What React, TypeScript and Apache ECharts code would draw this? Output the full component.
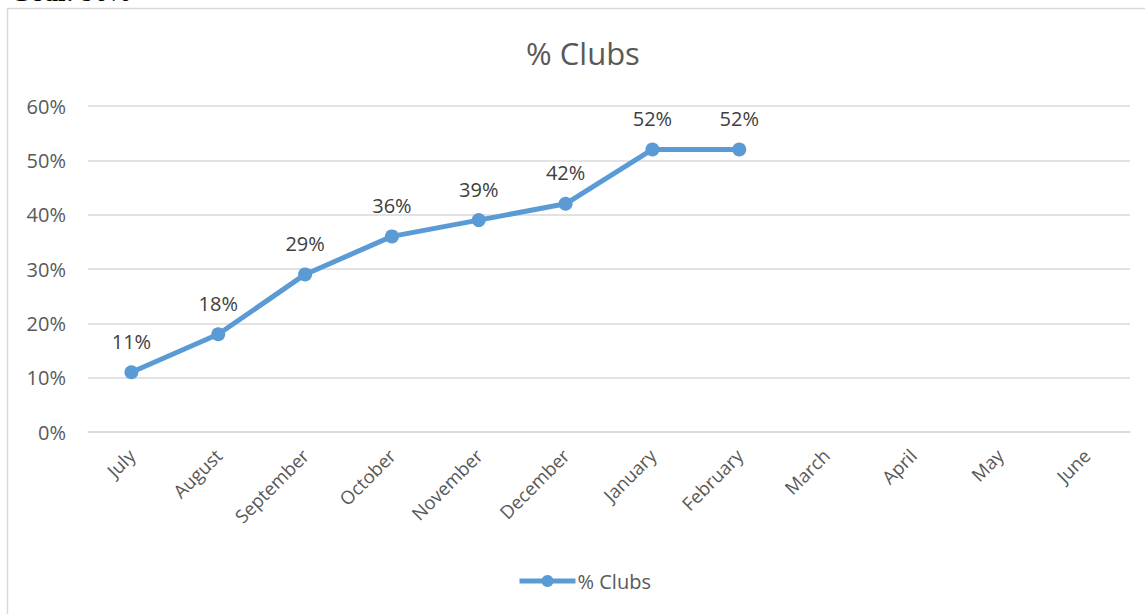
import React, { useEffect, useRef } from "react";
import * as echarts from "echarts";

const categories = ["July", "August", "September", "October", "November", "December", "January", "February", "March", "April", "May", "June"];
const clubsPct: (number | null)[] = [11, 18, 29, 36, 39, 42, 52, 52, null, null, null, null];
const seriesName = "% Clubs";
const goalLabel = "Goal:";
const goalValue = "90%";

const FONT = "'Open Sans', 'Noto Sans', sans-serif";

export default function App() {
  const ref = useRef<HTMLDivElement>(null);
  useEffect(() => {
    document.body.style.margin = "0";
    const chart = echarts.init(ref.current!, null, { renderer: "svg" });
    chart.setOption({
      animation: false,
      backgroundColor: "#ffffff",
      graphic: [
        {
          type: "rect",
          shape: { x: 7.5, y: 8.5, width: 1200, height: 700 },
          style: { fill: "none", stroke: "#d9d9d9", lineWidth: 1.5 },
          silent: true,
          z: -1,
        },
        {
          type: "text",
          x: 10,
          y: 5,
          style: {
            text: "{b|" + goalLabel + "} " + goalValue,
            fontFamily: "'Liberation Serif', 'DejaVu Serif', serif",
            fontSize: 27,
            fill: "#000",
            verticalAlign: "bottom",
            rich: { b: { fontWeight: "bold", fontFamily: "'Liberation Serif', serif", fontSize: 27 } },
          },
        },
        {
          type: "text",
          x: 583,
          y: 53,
          style: {
            text: seriesName,
            fontFamily: FONT,
            fontSize: 31,
            fill: "#595959",
            align: "center",
            verticalAlign: "middle",
          },
        },
      ],
      grid: { left: 88, right: 15, top: 106, bottom: 182, containLabel: false },
      legend: {
        bottom: 18,
        left: 512,
        itemWidth: 56,
        itemHeight: 15,
        itemGap: 10,
        textStyle: { fontFamily: FONT, fontSize: 20, color: "#595959", padding: [0, 0, 0, -3] },
        lineStyle: { width: 5 },
        data: [seriesName],
      },
      xAxis: {
        type: "category",
        data: categories,
        boundaryGap: true,
        axisLine: { lineStyle: { color: "#d9d9d9", width: 1.5 } },
        axisTick: { show: false },
        axisLabel: { rotate: 45, fontFamily: FONT, fontSize: 18.5, color: "#595959", margin: 20, interval: 0 },
      },
      yAxis: {
        type: "value",
        min: 0,
        max: 60,
        interval: 10,
        axisLine: { show: false },
        axisTick: { show: false },
        splitLine: { lineStyle: { color: "#d9d9d9", width: 1.5 } },
        axisLabel: { formatter: "{value}%", fontFamily: FONT, fontSize: 20, color: "#595959", margin: 22 },
      },
      series: [
        {
          name: seriesName,
          type: "line",
          data: clubsPct,
          symbol: "circle",
          symbolSize: 14,
          lineStyle: { color: "#5b9bd5", width: 5 },
          itemStyle: { color: "#5b9bd5" },
          label: {
            show: true,
            position: "top",
            distance: 14,
            formatter: "{c}%",
            fontFamily: FONT,
            fontSize: 20,
            color: "#404040",
          },
        },
      ],
    });
    return () => chart.dispose();
  }, []);
  return <div ref={ref} style={{ width: 1145, height: 614 }} />;
}
